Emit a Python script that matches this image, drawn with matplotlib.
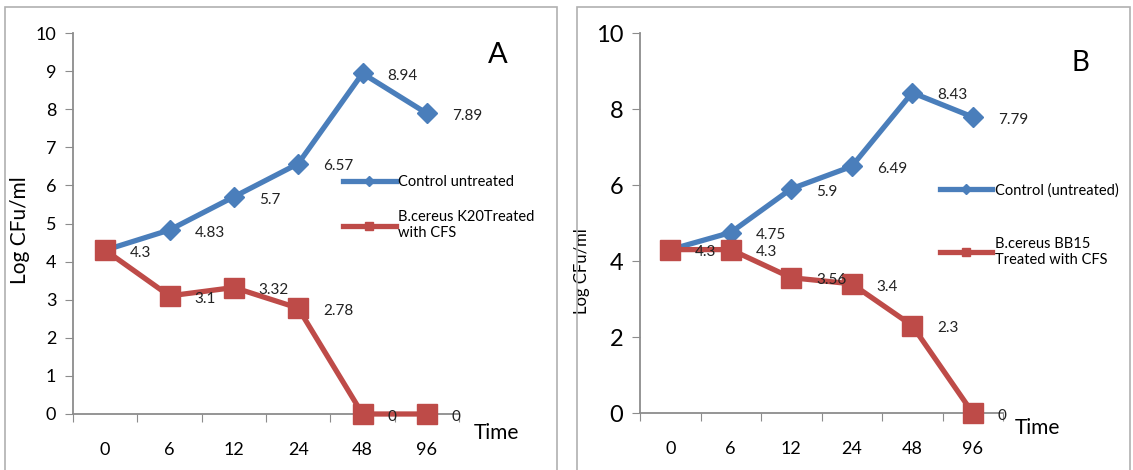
import matplotlib.pyplot as plt
from matplotlib.lines import Line2D
from matplotlib.patches import Rectangle

plt.rcParams['font.family'] = ['Lato', 'DejaVu Sans']

times = ['0', '6', '12', '24', '48', '96']

a_control = [4.3, 4.83, 5.7, 6.57, 8.94, 7.89]
a_treated = [4.3, 3.1, 3.32, 2.78, 0, 0]
a_control_name = 'Control untreated'
a_treated_name = 'B.cereus K20Treated\nwith CFS'

b_control = [4.3, 4.75, 5.9, 6.49, 8.43, 7.79]
b_treated = [4.3, 4.3, 3.56, 3.4, 2.3, 0]
b_control_name = 'Control (untreated)'
b_treated_name = 'B.cereus BB15\nTreated with CFS'

blue = '#4A7EBB'
red = '#BE4B48'
axis_gray = '#8c8c8c'

fig = plt.figure(figsize=(11.33, 4.70), dpi=100)

# panel frames
fig.patches.append(Rectangle((5/1133, -0.01), 552/1133, 1 - 7/470 + 0.01, transform=fig.transFigure,
                             fill=False, edgecolor='#b0b0b0', lw=1.2))
fig.patches.append(Rectangle((577/1133, -0.01), 553/1133, 1 - 7/470 + 0.01, transform=fig.transFigure,
                             fill=False, edgecolor='#b0b0b0', lw=1.2))


def panel(ax, control, treated, cname, tname, ystep, ytick_fs, ylab_fs, letter, letter_fs, letter_pos,
          time_pos, leg_anchor, leg_space, skip_labels):
    x = list(range(len(times)))
    ax.plot(x, control, color=blue, lw=3.8, marker='D', ms=10, zorder=3)
    ax.plot(x, treated, color=red, lw=3.8, marker='s', ms=15, zorder=4)

    # data labels, left aligned just right of each point
    for i, v in enumerate(control):
        ax.annotate(f'{v:g}', (i, v), xytext=(18, -2), textcoords='offset points',
                    ha='left', va='center', fontsize=11, color='#222222', zorder=6)
    for i, v in enumerate(treated):
        if i in skip_labels:
            continue
        ax.annotate(f'{v:g}', (i, v), xytext=(18, -2), textcoords='offset points',
                    ha='left', va='center', fontsize=11, color='#222222', zorder=6)

    ax.set_xlim(-0.5, len(times) - 0.5)
    ax.set_ylim(0, 10)
    ax.set_yticks([i * ystep for i in range(int(10 / ystep) + 1)])
    ax.tick_params(axis='y', labelsize=ytick_fs, length=6, color=axis_gray, pad=6)
    ax.set_xticks([i - 0.5 for i in range(len(times) + 1)])
    ax.set_xticklabels([])
    ax.set_xticks(x, minor=True)
    ax.set_xticklabels(times, minor=True, fontsize=13)
    ax.tick_params(axis='x', which='major', length=6, color=axis_gray)
    ax.tick_params(axis='x', which='minor', length=0, pad=20)
    for s in ['top', 'right']:
        ax.spines[s].set_visible(False)
    for s in ['left', 'bottom']:
        ax.spines[s].set_color(axis_gray)
        ax.spines[s].set_linewidth(1.3)
    ax.set_ylabel('Log CFu/ml', fontsize=ylab_fs)
    for ln in ax.lines:
        ln.set_clip_on(False)

    ax.text(letter_pos[0], letter_pos[1], letter, transform=ax.transAxes, fontsize=letter_fs,
            ha='center', va='center')
    ax.text(time_pos[0], time_pos[1], 'Time', transform=ax.transAxes, fontsize=15,
            ha='center', va='center')

    handles = [Line2D([], [], color=blue, lw=3.8, marker='D', ms=5),
               Line2D([], [], color=red, lw=3.8, marker='s', ms=6)]
    ax.legend(handles, [cname, tname], loc='upper left', bbox_to_anchor=leg_anchor,
              frameon=False, fontsize=10.5, handlelength=3.6, handletextpad=0.15,
              labelspacing=leg_space, borderaxespad=0, borderpad=0)


ax_a = fig.add_axes([73/1133, 1 - 414/470, 386/1133, 381/470])
panel(ax_a, a_control, a_treated, a_control_name, a_treated_name, 1, 13, 15,
      'A', 21, (1.10, 0.942), (1.096, -0.05), (0.70, 0.627), 1.45, [0])
ax_a.yaxis.set_label_coords(-0.111, 0.483)

ax_b = fig.add_axes([640/1133, 1 - 413/470, 363/1133, 380/470])
panel(ax_b, b_control, b_treated, b_control_name, b_treated_name, 2, 17, 12,
      'B', 20, (1.212, 0.921), (1.094, -0.04), (0.826, 0.605), 2.7, [0])
ax_b.yaxis.set_label_coords(-0.138, 0.374)

fig.savefig('out.png', dpi=100)
